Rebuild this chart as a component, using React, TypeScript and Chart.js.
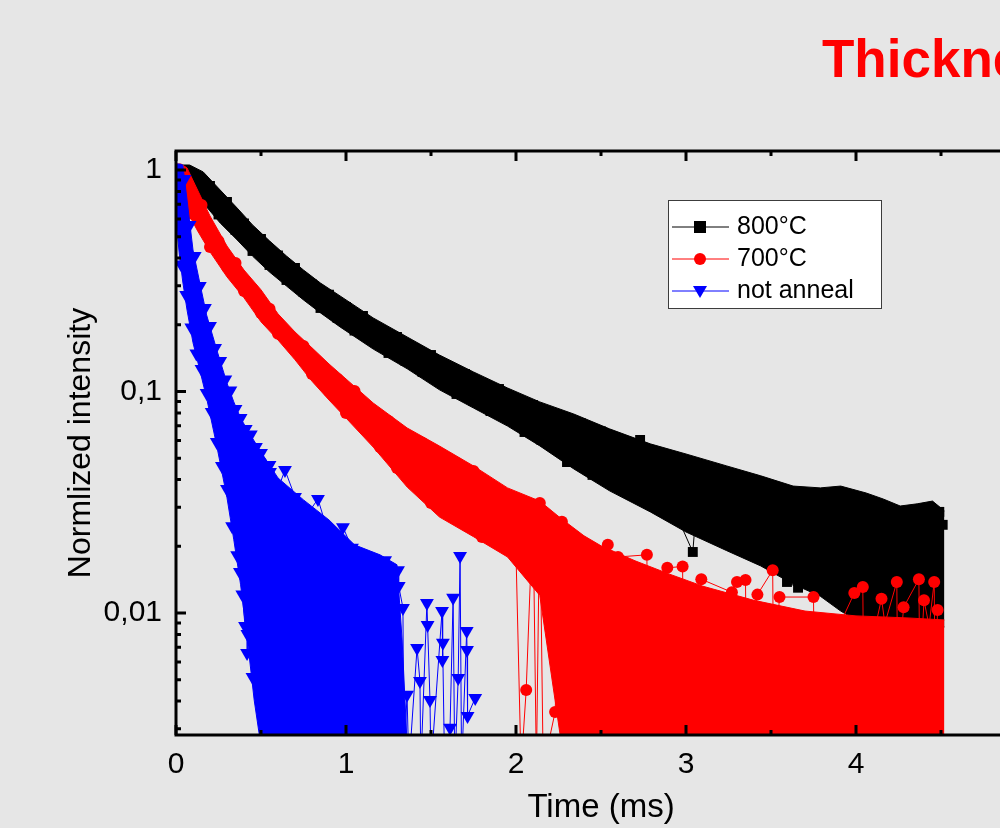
import React, { useEffect, useRef } from 'react';
import { Chart, registerables } from 'chart.js';

Chart.register(...registerables);

// ---------- text ----------
const TITLE = 'Thickness';
const X_TITLE = 'Time (ms)';
const Y_TITLE = 'Normlized intensity';
const SERIES_LABELS = ['800°C', '700°C', 'not anneal'];

// ---------- axes ----------
const X_MIN = 0;
const X_MAX = 5;
const Y_MIN = 0.002812;
const Y_MAX = 1.218;
const X_MAJOR = [0, 1, 2, 3, 4, 5];
const X_LABELS = ['0', '1', '2', '3', '4', '5'];
const X_MINOR = [0.5, 1.5, 2.5, 3.5, 4.5];
const Y_MAJOR = [0.01, 0.1, 1];
const Y_LABELS = ['0,01', '0,1', '1'];
const Y_MINOR = [0.003, 0.004, 0.005, 0.006, 0.007, 0.008, 0.009, 0.02, 0.03, 0.04, 0.05, 0.06, 0.07, 0.08, 0.09, 0.2, 0.3, 0.4, 0.5, 0.6, 0.7, 0.8, 0.9];

// ---------- 800°C : dense band (upper / lower envelope of the scatter) ----------
const BLACK_BAND_T = [0.025, 0.08, 0.16, 0.26, 0.36, 0.45, 0.55, 0.65, 0.75, 0.85, 0.965, 1.16, 1.36, 1.55, 1.75, 1.95, 2.14, 2.34, 2.55, 2.79, 3.0, 3.24, 3.44, 3.63, 3.79, 3.91, 4.06, 4.16, 4.26, 4.36, 4.45, 4.52];
const BLACK_BAND_HI = [1.053, 1.053, 0.98, 0.812, 0.673, 0.565, 0.4785, 0.4087, 0.3534, 0.3086, 0.27, 0.2148, 0.1762, 0.146, 0.1225, 0.1037, 0.0897, 0.0791, 0.0678, 0.058, 0.0522, 0.0461, 0.0416, 0.0374, 0.0367, 0.0374, 0.0348, 0.0327, 0.0304, 0.0311, 0.032, 0.0289];
const BLACK_BAND_LO = [0.901, 0.838, 0.71, 0.576, 0.483, 0.4085, 0.3462, 0.2992, 0.2589, 0.2263, 0.1956, 0.1554, 0.1266, 0.1017, 0.0842, 0.0698, 0.0568, 0.0447, 0.0356, 0.0286, 0.0232, 0.0191, 0.0163, 0.0135, 0.0119, 0.0102, 0.00873, 0.00787, 0.00804, 0.0083, 0.00847, 0.00864];
// 800°C : individual noisy points (band edges) and outliers
const BLACK_T = [0.2, 0.25, 0.3, 0.35, 0.4, 0.45, 0.5, 0.55, 0.6, 0.65, 0.7, 0.75, 0.8, 0.85, 0.9, 0.95, 1.0, 1.05, 1.1, 1.15, 1.2, 1.25, 1.3, 1.35, 1.4, 1.45, 1.5, 1.55, 1.6, 1.65, 1.7, 1.75, 1.8, 1.85, 1.9, 1.95, 2.0, 2.05, 2.1, 2.15,
  2.2, 2.3, 2.38, 2.45, 2.5, 2.61, 2.66, 2.73, 2.8, 2.88, 2.95, 3.04, 3.08, 3.15, 3.32, 3.38, 3.44, 3.52, 3.594, 3.659, 3.67, 3.75, 3.89, 3.95, 4.08, 4.12, 4.2, 4.26, 4.33, 4.38, 4.46, 4.49, 4.51];
const BLACK_V = [0.8468, 0.6296, 0.717, 0.536, 0.5734, 0.4308, 0.4881, 0.3725, 0.4111, 0.3187, 0.3611, 0.2813, 0.3041, 0.2382, 0.2735, 0.2147, 0.2407, 0.1883, 0.2192, 0.1708, 0.1895, 0.1492, 0.1762, 0.1373, 0.1572, 0.1225, 0.1461, 0.1104, 0.129, 0.0974, 0.1199, 0.0906, 0.1093, 0.0816, 0.1026, 0.0759, 0.0916, 0.0656, 0.0869, 0.0604,
  0.0706, 0.048, 0.0721, 0.042, 0.066, 0.0592, 0.037, 0.0604, 0.0314, 0.0491, 0.027, 0.01885, 0.0456, 0.0235, 0.0407, 0.0195, 0.0378, 0.0371, 0.0138, 0.013, 0.0331, 0.0145, 0.0352, 0.011, 0.0314, 0.008, 0.00755, 0.0268, 0.0085, 0.0292, 0.00755, 0.0286, 0.025];

// ---------- 700°C ----------
const RED_BAND_T = [0, 0.03, 0.065, 0.124, 0.2, 0.3, 0.4, 0.5, 0.6, 0.7, 0.8, 0.9, 1.0, 1.16, 1.36, 1.55, 1.75, 1.95, 2.14, 2.26, 2.4, 2.5, 2.7, 2.9, 3.1, 3.4, 3.7, 4.0, 4.3, 4.52];
const RED_BAND_HI = [1.064, 1.064, 1.021, 0.8205, 0.62, 0.4535, 0.3534, 0.2877, 0.2241, 0.1856, 0.1574, 0.1331, 0.1139, 0.0887, 0.0684, 0.0567, 0.0461, 0.0367, 0.032, 0.0269, 0.0223, 0.0201, 0.0172, 0.015, 0.0132, 0.0114, 0.0102, 0.0097, 0.0095, 0.0093];
const RED_BAND_LO = [0.901, 0.812, 0.653, 0.536, 0.4268, 0.329, 0.2647, 0.2062, 0.1707, 0.139, 0.1112, 0.0915, 0.0759, 0.0561, 0.037, 0.0271, 0.0221, 0.0179, 0.012, 0.0028, 0.0025, 0.0025, 0.0025, 0.0025, 0.0025, 0.0025, 0.0025, 0.0025, 0.0025, 0.0025];
const RED_T = [0.1, 0.15, 0.2, 0.25, 0.3, 0.35, 0.4, 0.45, 0.5, 0.55, 0.6, 0.65, 0.7, 0.75, 0.8, 0.85, 0.9, 0.95, 1.0, 1.05, 1.1, 1.15, 1.2, 1.25, 1.3, 1.35, 1.4, 1.45, 1.5, 1.55, 1.6, 1.65, 1.7, 1.75, 1.8, 1.85, 1.9, 1.95, 2.0,
  2.03, 2.06, 2.1, 2.12, 2.14, 2.16, 2.23, 2.27, 2.3, 2.36, 2.41, 2.45, 2.54, 2.545, 2.6, 2.77, 2.775, 2.89, 2.98, 2.985, 3.09, 3.27, 3.3, 3.35, 3.355, 3.42, 3.51, 3.515, 3.55, 3.75, 3.755, 3.99, 4.04, 4.045, 4.15, 4.17, 4.24, 4.245, 4.28, 4.37, 4.375, 4.4, 4.43, 4.46, 4.465, 4.48];
const RED_V = [0.633, 0.695, 0.449, 0.478, 0.365, 0.38, 0.284, 0.29, 0.226, 0.236, 0.182, 0.184, 0.156, 0.1605, 0.12, 0.1317, 0.1005, 0.1139, 0.08, 0.1005, 0.0699, 0.0816, 0.0561, 0.0736, 0.0451, 0.063, 0.0382, 0.0585, 0.0314, 0.0511, 0.0286, 0.0476, 0.025, 0.0438, 0.022, 0.0371, 0.0207, 0.0337, 0.0185,
  0.002, 0.00449, 0.0295, 0.002, 0.0314, 0.002, 0.00357, 0.0258, 0.002, 0.021, 0.00312, 0.002, 0.0203, 0.005, 0.0179, 0.0183, 0.005, 0.016, 0.0162, 0.005, 0.0142, 0.0124, 0.0138, 0.0141, 0.005, 0.0121, 0.0156, 0.005, 0.0118, 0.0118, 0.005, 0.0123, 0.0131, 0.005, 0.0116, 0.00896, 0.0138, 0.005, 0.0106, 0.0142, 0.005, 0.0114, 0.00873, 0.0138, 0.005, 0.0103];

// ---------- not anneal ----------
const BLUE_BAND_T = [0, 0.02, 0.04, 0.065, 0.1, 0.14, 0.18, 0.24, 0.3, 0.34, 0.38, 0.42, 0.46, 0.5, 0.6, 0.75, 0.9, 1.05, 1.2, 1.3, 1.33, 1.36];
const BLUE_BAND_HI = [1.064, 1.064, 1.053, 0.732, 0.435, 0.309, 0.2215, 0.154, 0.109, 0.0897, 0.0759, 0.067, 0.0598, 0.0533, 0.0407, 0.0324, 0.0263, 0.0203, 0.0183, 0.0165, 0.00755, 0.0025];
const BLUE_BAND_LO = [0.595, 0.413, 0.312, 0.233, 0.166, 0.125, 0.0934, 0.0567, 0.0331, 0.0214, 0.0134, 0.00755, 0.00404, 0.0025, 0.0025, 0.0025, 0.0025, 0.0025, 0.0025, 0.0025, 0.0025, 0.0025];
const BLUE_T = [0.03, 0.05, 0.06, 0.08, 0.09, 0.11, 0.12, 0.14, 0.15, 0.17, 0.18, 0.2, 0.21, 0.23, 0.24, 0.26, 0.27, 0.29, 0.3, 0.32, 0.33, 0.35, 0.36, 0.376, 0.38, 0.39, 0.406, 0.41, 0.418, 0.42, 0.44, 0.45, 0.47, 0.5, 0.55, 0.553, 0.6, 0.641, 0.7, 0.77, 0.835, 0.918, 0.982, 1.035, 1.1, 1.23, 1.306, 1.31, 1.335, 1.34, 1.359, 1.37, 1.418, 1.435, 1.44, 1.476, 1.48, 1.494, 1.5, 1.565, 1.567, 1.57, 1.58, 1.612, 1.63, 1.64, 1.66, 1.671, 1.68, 1.71, 1.712, 1.715, 1.76];
const BLUE_V = [0.3744, 0.9107, 0.2727, 0.5645, 0.1945, 0.409, 0.1485, 0.2994, 0.1263, 0.2382, 0.0985, 0.1976, 0.0808, 0.1572, 0.0592, 0.1373, 0.0461, 0.1133, 0.0363, 0.1011, 0.0246, 0.0834, 0.0182, 0.0153, 0.0759, 0.0121, 0.00874, 0.0677, 0.0066, 0.00804, 0.064, 0.00514, 0.0561, 0.0528, 0.0466, 0.0433, 0.0363, 0.0442, 0.0334, 0.0277, 0.0327, 0.0201, 0.0244, 0.0197, 0.0173, 0.0173, 0.0156, 0.01324, 0.01054, 0.002, 0.00427, 0.002, 0.00695, 0.00493, 0.002, 0.0111, 0.00883, 0.00405, 0.002, 0.0102, 0.00614, 0.00733, 0.002, 0.00303, 0.0117, 0.002, 0.00509, 0.0181, 0.002, 0.0083, 0.00681, 0.00343, 0.00413];

// ---------- style ----------
const FONT = '"Liberation Sans", Arial, Helvetica, sans-serif';
const BG = '#e6e6e6';
const COLORS = ['#000000', '#ff0000', '#0000ff'];
const CANVAS_W = 1100;
const CANVAS_H = 828;

const pts = (ts: number[], vs: number[]) => ts.map((t, i) => ({ x: t, y: vs[i] }));

const bandSet = (ts: number[], vs: number[], color: string, order: number, fill: any) => ({
  label: '',
  data: pts(ts, vs),
  borderColor: color,
  backgroundColor: color,
  borderWidth: 1,
  pointRadius: 0,
  pointHoverRadius: 0,
  tension: 0,
  fill,
  order,
  clip: 0,
});

const seriesSet = (label: string, ts: number[], vs: number[], color: string, style: string, radius: number, rotation: number, order: number) => ({
  label,
  data: pts(ts, vs),
  borderColor: color,
  backgroundColor: color,
  borderWidth: 1,
  pointStyle: style,
  pointRadius: radius,
  pointHoverRadius: radius,
  pointRotation: rotation,
  pointBackgroundColor: color,
  pointBorderColor: color,
  pointBorderWidth: 0,
  tension: 0,
  fill: false,
  order,
  clip: 0,
});

const frameAndTicks = {
  id: 'frameAndTicks',
  afterDatasetsDraw(chart: any) {
    const { ctx, chartArea: a, scales } = chart;
    const xs = scales.x;
    const ys = scales.y;
    ctx.save();
    ctx.strokeStyle = '#000';
    ctx.lineWidth = 3;
    ctx.lineCap = 'butt';
    ctx.beginPath();
    const seg = (x1: number, y1: number, x2: number, y2: number) => { ctx.moveTo(x1, y1); ctx.lineTo(x2, y2); };
    X_MAJOR.forEach((v) => { const p = xs.getPixelForValue(v); seg(p, a.bottom, p, a.bottom - 10); seg(p, a.top, p, a.top + 10); });
    X_MINOR.forEach((v) => { const p = xs.getPixelForValue(v); seg(p, a.bottom, p, a.bottom - 5); seg(p, a.top, p, a.top + 5); });
    Y_MAJOR.forEach((v) => { const p = ys.getPixelForValue(v); seg(a.left, p, a.left + 10, p); seg(a.right, p, a.right - 10, p); });
    Y_MINOR.forEach((v) => { const p = ys.getPixelForValue(v); seg(a.left, p, a.left + 5, p); seg(a.right, p, a.right - 5, p); });
    ctx.stroke();
    ctx.strokeRect(a.left, a.top, a.right - a.left, a.bottom - a.top);
    ctx.restore();
  },
};

const boxLegend = {
  id: 'boxLegend',
  afterDraw(chart: any) {
    const ctx = chart.ctx;
    ctx.save();
    ctx.fillStyle = '#ffffff';
    ctx.fillRect(669, 201, 212, 107);
    ctx.strokeStyle = '#3c3c3c';
    ctx.lineWidth = 1;
    ctx.strokeRect(668.5, 200.5, 213, 108);
    SERIES_LABELS.forEach((label, i) => {
      const y = 227 + i * 32;
      const c = COLORS[i];
      ctx.strokeStyle = c;
      ctx.lineWidth = 1;
      ctx.beginPath();
      ctx.moveTo(672, y);
      ctx.lineTo(729, y);
      ctx.stroke();
      ctx.fillStyle = c;
      ctx.beginPath();
      if (i === 0) {
        ctx.rect(694, y - 6, 12, 12);
      } else if (i === 1) {
        ctx.arc(700, y, 6, 0, Math.PI * 2);
      } else {
        ctx.moveTo(693, y - 5);
        ctx.lineTo(707, y - 5);
        ctx.lineTo(700, y + 7);
        ctx.closePath();
      }
      ctx.fill();
      ctx.fillStyle = '#000';
      ctx.font = `25px ${FONT}`;
      ctx.textBaseline = 'middle';
      ctx.textAlign = 'left';
      ctx.fillText(label, 737, y);
    });
    ctx.restore();
  },
};

export default function App() {
  const ref = useRef<HTMLCanvasElement>(null);

  useEffect(() => {
    if (!ref.current) return;
    const datasets = [
      bandSet(BLACK_BAND_T, BLACK_BAND_HI, COLORS[0], 30, false),
      bandSet(BLACK_BAND_T, BLACK_BAND_LO, COLORS[0], 30, '-1'),
      seriesSet(SERIES_LABELS[0], BLACK_T, BLACK_V, COLORS[0], 'rect', 7, 0, 25),
      bandSet(RED_BAND_T, RED_BAND_HI, COLORS[1], 20, false),
      bandSet(RED_BAND_T, RED_BAND_LO, COLORS[1], 20, '-1'),
      seriesSet(SERIES_LABELS[1], RED_T, RED_V, COLORS[1], 'circle', 6, 0, 15),
      bandSet(BLUE_BAND_T, BLUE_BAND_HI, COLORS[2], 10, false),
      bandSet(BLUE_BAND_T, BLUE_BAND_LO, COLORS[2], 10, '-1'),
      seriesSet(SERIES_LABELS[2], BLUE_T, BLUE_V, COLORS[2], 'triangle', 8, 180, 5),
    ];
    const chart = new Chart(ref.current, {
      type: 'line',
      data: { datasets } as any,
      options: {
        animation: false,
        responsive: false,
        maintainAspectRatio: false,
        devicePixelRatio: 1,
        events: [],
        layout: { padding: { top: 151, right: CANVAS_W - 1026, bottom: 0, left: 0 } },
        scales: {
          x: {
            type: 'linear',
            min: X_MIN,
            max: X_MAX,
            bounds: 'data',
            afterBuildTicks: (s: any) => { s.ticks = X_MAJOR.map((v) => ({ value: v })); },
            afterFit: (s: any) => { s.height = 93; },
            ticks: {
              autoSkip: false,
              maxRotation: 0,
              minRotation: 0,
              padding: 12,
              color: '#000',
              font: { family: FONT, size: 30 },
              callback: (v: any) => { const i = X_MAJOR.indexOf(Number(v)); return i >= 0 ? X_LABELS[i] : ''; },
            },
            grid: { display: false, drawTicks: false },
            border: { display: false },
            title: { display: true, text: X_TITLE, color: '#000', font: { family: FONT, size: 33 }, padding: { top: 0, bottom: 0 } },
          },
          y: {
            type: 'logarithmic',
            min: Y_MIN,
            max: Y_MAX,
            bounds: 'data',
            afterBuildTicks: (s: any) => { s.ticks = Y_MAJOR.map((v) => ({ value: v, major: true })); },
            afterFit: (s: any) => { s.width = 176; },
            ticks: {
              autoSkip: false,
              padding: 14,
              color: '#000',
              font: { family: FONT, size: 30 },
              callback: (v: any) => { const i = Y_MAJOR.indexOf(Number(v)); return i >= 0 ? Y_LABELS[i] : ''; },
            },
            grid: { display: false, drawTicks: false },
            border: { display: false },
            title: { display: true, text: Y_TITLE, color: '#000', font: { family: FONT, size: 32 }, padding: { top: 62, bottom: 0 } },
          },
        },
        plugins: {
          legend: { display: false },
          tooltip: { enabled: false },
          title: { display: false },
        },
      } as any,
      plugins: [frameAndTicks, boxLegend],
    });
    return () => chart.destroy();
  }, []);

  return (
    <div style={{ position: 'fixed', left: 0, top: 0, width: 1000, height: 828, overflow: 'hidden', background: BG }}>
      <canvas ref={ref} width={CANVAS_W} height={CANVAS_H} style={{ position: 'absolute', left: 0, top: 0, width: CANVAS_W, height: CANVAS_H }} />
      <div
        style={{
          position: 'absolute',
          left: 822,
          top: 32,
          fontFamily: FONT,
          fontWeight: 'bold',
          fontSize: 53,
          lineHeight: '53px',
          color: '#ff0000',
          whiteSpace: 'nowrap',
        }}
      >
        {TITLE}
      </div>
    </div>
  );
}
